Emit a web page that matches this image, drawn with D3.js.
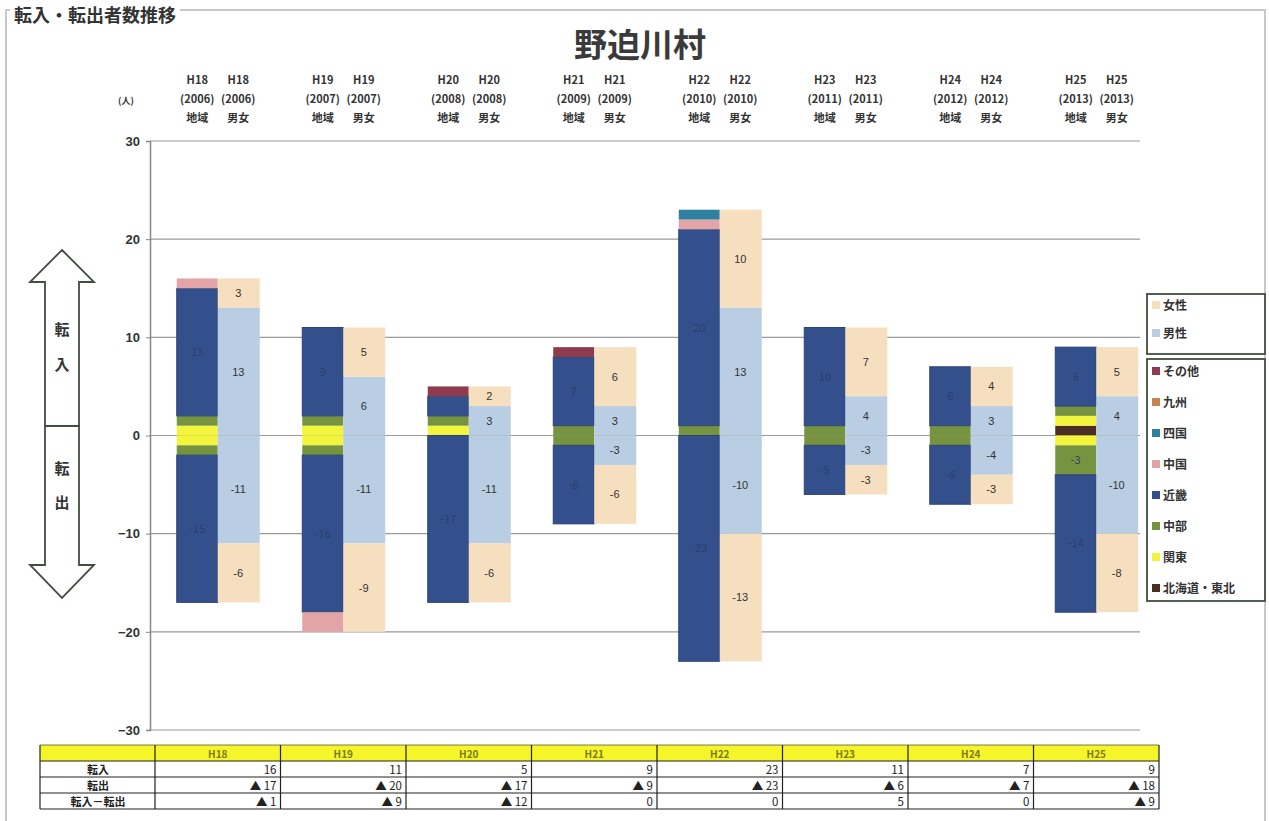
<!DOCTYPE html>
<html lang="ja">
<head>
<meta charset="UTF-8">
<title>野迫川村</title>
<script src="https://cdn.jsdelivr.net/npm/d3@7"></script>
<style>
  html, body { margin: 0; padding: 0; background: #fff; }
  svg { display: block; font-family: "Noto Sans CJK JP", "Noto Sans", sans-serif; }
</style>
</head>
<body>
<script>
// 年次
var years = ['H18', 'H19', 'H20', 'H21', 'H22', 'H23', 'H24', 'H25'];
var westernYears = ['2006', '2007', '2008', '2009', '2010', '2011', '2012', '2013'];

// 地域（下から積み上げる順）
var regions = ['北海道・東北', '関東', '中部', '近畿', '中国', '四国', '九州', 'その他'];
var regionColors = ['#4a2e22', '#f2f53c', '#76943f', '#34508c', '#e3a4a8', '#2f7fa0', '#c7804f', '#8e3b4e'];

// 地域別 転入（年 x 地域）
var regionIn = [
  [0, 1, 1, 13, 1, 0, 0, 0],
  [0, 1, 1, 9, 0, 0, 0, 0],
  [0, 1, 1, 2, 0, 0, 0, 1],
  [0, 0, 1, 7, 0, 0, 0, 1],
  [0, 0, 1, 20, 1, 1, 0, 0],
  [0, 0, 1, 10, 0, 0, 0, 0],
  [0, 0, 1, 6, 0, 0, 0, 0],
  [1, 1, 1, 6, 0, 0, 0, 0]
];
// 地域別 転出
var regionOut = [
  [0, -1, -1, -15, 0, 0, 0, 0],
  [0, -1, -1, -16, -2, 0, 0, 0],
  [0, 0, 0, -17, 0, 0, 0, 0],
  [0, 0, -1, -8, 0, 0, 0, 0],
  [0, 0, 0, -23, 0, 0, 0, 0],
  [0, 0, -1, -5, 0, 0, 0, 0],
  [0, 0, -1, -6, 0, 0, 0, 0],
  [0, -1, -3, -14, 0, 0, 0, 0]
];

// 男女別
var maleIn = [13, 6, 3, 3, 13, 4, 3, 4];
var femaleIn = [3, 5, 2, 6, 10, 7, 4, 5];
var maleOut = [-11, -11, -11, -3, -10, -3, -4, -10];
var femaleOut = [-6, -9, -6, -6, -13, -3, -3, -8];
var sexColors = { '男性': '#b9cde3', '女性': '#f5dfbf' };

var yTicks = [30, 20, 10, 0, -10, -20, -30];

var W = 1269, H = 821;
var svg = d3.select('body').append('svg').attr('width', W).attr('height', H);

// 外枠
svg.append('rect').attr('x', 6).attr('y', 10).attr('width', W - 10).attr('height', H - 6)
  .attr('fill', 'none').attr('stroke', '#c8c8c8').attr('stroke-width', 2);

// 上部の見出し
svg.append('rect').attr('x', 10).attr('y', 4).attr('width', 170).attr('height', 22).attr('fill', '#fff');
svg.append('text').attr('x', 14).attr('y', 22).attr('font-size', 18).attr('font-weight', 'bold')
  .attr('fill', '#333').text('転入・転出者数推移');

// タイトル
svg.append('text').attr('x', 640).attr('y', 57).attr('text-anchor', 'middle')
  .attr('font-size', 33).attr('font-weight', 'bold').attr('fill', '#3a3a3a').text('野迫川村');

// スケール
var x = d3.scaleBand().domain(years).range([155, 1159]);
var y = d3.scaleLinear().domain([-30, 30]).range([730, 141]);
var barW = 41;

// グリッド
svg.append('g').selectAll('line').data(yTicks).join('line')
  .attr('x1', 150).attr('x2', 1140)
  .attr('y1', function (d) { return y(d); }).attr('y2', function (d) { return y(d); })
  .attr('stroke', '#9a9a9a').attr('stroke-width', 1.2);

// y軸
var yAxis = svg.append('g').attr('transform', 'translate(150,0)')
  .call(d3.axisLeft(y).tickValues(yTicks).tickSize(4).tickPadding(6));
yAxis.select('.domain').attr('stroke', '#888').attr('stroke-width', 1.5);
yAxis.selectAll('.tick line').attr('stroke', '#888');
yAxis.selectAll('text').attr('font-size', 13).attr('font-weight', 'bold').attr('fill', '#333')
  .attr('font-family', '"Liberation Sans", sans-serif');

svg.append('text').attr('x', 126).attr('y', 104).attr('text-anchor', 'middle')
  .attr('font-size', 9).attr('font-weight', 'bold').attr('fill', '#333').text('(人)');

// 積み上げ
function stackSegs(vals, colors, names) {
  var segs = [], pos = 0, neg = 0;
  vals.forEach(function (v, i) {
    if (v > 0) { segs.push({ y0: pos, y1: pos + v, v: v, c: colors[i], n: names[i] }); pos += v; }
    else if (v < 0) { segs.push({ y0: neg, y1: neg + v, v: v, c: colors[i], n: names[i] }); neg += v; }
  });
  return segs;
}

years.forEach(function (yr, i) {
  var cx = x(yr) + x.bandwidth() / 2;
  var g = svg.append('g');

  // 地域バー
  var rs = stackSegs(regionIn[i], regionColors, regions).concat(stackSegs(regionOut[i], regionColors, regions));
  g.selectAll('rect.reg').data(rs).join('rect').attr('class', 'reg')
    .attr('x', cx - barW).attr('width', barW)
    .attr('y', function (d) { return y(Math.max(d.y0, d.y1)); })
    .attr('height', function (d) { return Math.abs(y(d.y0) - y(d.y1)); })
    .attr('fill', function (d) { return d.c; })
    .attr('stroke', function (d) { return d.n === '近畿' ? '#2b4375' : 'none'; }).attr('stroke-width', 1);
  g.selectAll('text.reg').data(rs.filter(function (d) { return Math.abs(d.v) >= 3; })).join('text')
    .attr('class', 'reg').attr('x', cx - barW / 2).attr('y', function (d) { return y((d.y0 + d.y1) / 2) + 4; })
    .attr('text-anchor', 'middle').attr('font-size', 11).attr('fill', '#2a3f6c')
    .text(function (d) { return d.v; });

  // 男女バー
  var ss = stackSegs([maleIn[i], femaleIn[i]], [sexColors['男性'], sexColors['女性']], ['男性', '女性'])
    .concat(stackSegs([maleOut[i], femaleOut[i]], [sexColors['男性'], sexColors['女性']], ['男性', '女性']));
  g.selectAll('rect.sex').data(ss).join('rect').attr('class', 'sex')
    .attr('x', cx).attr('width', barW + 1)
    .attr('y', function (d) { return y(Math.max(d.y0, d.y1)); })
    .attr('height', function (d) { return Math.abs(y(d.y0) - y(d.y1)); })
    .attr('fill', function (d) { return d.c; });
  g.selectAll('text.sex').data(ss).join('text').attr('class', 'sex')
    .attr('x', cx + barW / 2).attr('y', function (d) { return y((d.y0 + d.y1) / 2) + 4; })
    .attr('text-anchor', 'middle').attr('font-size', 11).attr('fill', '#333')
    .attr('font-family', '"Liberation Sans", sans-serif')
    .text(function (d) { return d.v; });

  // 列見出し
  var hdr = [[yr, yr], ['(' + westernYears[i] + ')', '(' + westernYears[i] + ')'], ['地域', '男女']];
  hdr.forEach(function (row, r) {
    [cx - barW / 2, cx + barW / 2].forEach(function (hx, k) {
      svg.append('text').attr('x', hx).attr('y', 84 + r * 19).attr('text-anchor', 'middle')
        .attr('font-size', 11).attr('font-weight', 'bold').attr('fill', '#333').text(row[k]);
    });
  });
});

// 左の矢印
var ar = svg.append('g').attr('fill', '#fff').attr('stroke', '#3f4f3f').attr('stroke-width', 1.8);
ar.append('path').attr('d', 'M62,250 L94,282 L79,282 L79,426 L45,426 L45,282 L30,282 Z');
ar.append('path').attr('d', 'M45,426 L79,426 L79,565 L94,565 L62,598 L30,565 L45,565 Z');
[['転', 335], ['入', 370], ['転', 474], ['出', 508]].forEach(function (d) {
  svg.append('text').attr('x', 62).attr('y', d[1]).attr('text-anchor', 'middle')
    .attr('font-size', 15).attr('font-weight', 'bold').attr('fill', '#333').text(d[0]);
});

// 凡例
var lg1 = svg.append('g');
lg1.append('rect').attr('x', 1147).attr('y', 294).attr('width', 118).attr('height', 60)
  .attr('fill', '#fff').attr('stroke', '#3f4f3f').attr('stroke-width', 1.8);
[['女性', 310], ['男性', 338]].forEach(function (d) {
  lg1.append('rect').attr('x', 1152).attr('y', d[1] - 9).attr('width', 8).attr('height', 8).attr('fill', sexColors[d[0]]);
  lg1.append('text').attr('x', 1163).attr('y', d[1]).attr('font-size', 12).attr('font-weight', 'bold')
    .attr('fill', '#333').text(d[0]);
});
var lg2 = svg.append('g');
lg2.append('rect').attr('x', 1147).attr('y', 359).attr('width', 118).attr('height', 242)
  .attr('fill', '#fff').attr('stroke', '#3f4f3f').attr('stroke-width', 1.8);
var legendRegions = regions.slice().reverse();
var legendColors = regionColors.slice().reverse();
legendRegions.forEach(function (r, i) {
  var ly = 376 + i * 31;
  lg2.append('rect').attr('x', 1152).attr('y', ly - 9).attr('width', 8).attr('height', 8).attr('fill', legendColors[i]);
  lg2.append('text').attr('x', 1163).attr('y', ly).attr('font-size', 12).attr('font-weight', 'bold')
    .attr('fill', '#333').text(r);
});

// 下の表
var inTot = years.map(function (d, i) { return d3.sum(regionIn[i]); });
var outTot = years.map(function (d, i) { return d3.sum(regionOut[i]); });
var net = years.map(function (d, i) { return inTot[i] + outTot[i]; });
function fmt(v) { return v < 0 ? '▲ ' + (-v) : String(v); }

var tY = 745, rowH = 16;
var tbl = svg.append('g');
tbl.append('rect').attr('x', 40).attr('y', tY).attr('width', 1159 - 40).attr('height', rowH)
  .attr('fill', '#f6f52a');
var rows = [['転入', inTot], ['転出', outTot], ['転入－転出', net]];
rows.forEach(function (r, k) {
  var ry = tY + rowH * (k + 1);
  tbl.append('text').attr('x', 98).attr('y', ry + 12.5).attr('text-anchor', 'middle')
    .attr('font-size', 11).attr('font-weight', 'bold').attr('fill', '#222').text(r[0]);
  years.forEach(function (yr, i) {
    tbl.append('text').attr('x', x(yr) + x.bandwidth() - 4).attr('y', ry + 12.5).attr('text-anchor', 'end')
      .attr('font-size', 11.5).attr('fill', '#222').text(fmt(r[1][i]));
  });
});
years.forEach(function (yr) {
  tbl.append('text').attr('x', x(yr) + x.bandwidth() / 2).attr('y', tY + 12.5).attr('text-anchor', 'middle')
    .attr('font-size', 10).attr('font-weight', 'bold').attr('fill', '#7a7a20').text(yr);
});
// 罫線
for (var k = 0; k <= 4; k++) {
  tbl.append('line').attr('x1', 40).attr('x2', 1159).attr('y1', tY + k * rowH).attr('y2', tY + k * rowH)
    .attr('stroke', '#222').attr('stroke-width', k === 0 ? 0.6 : 1.2);
}
[40, 155].concat(years.map(function (yr) { return x(yr) + x.bandwidth(); })).forEach(function (lx) {
  tbl.append('line').attr('x1', lx).attr('x2', lx).attr('y1', tY).attr('y2', tY + 4 * rowH)
    .attr('stroke', '#222').attr('stroke-width', 1.2);
});
</script>
</body>
</html>
